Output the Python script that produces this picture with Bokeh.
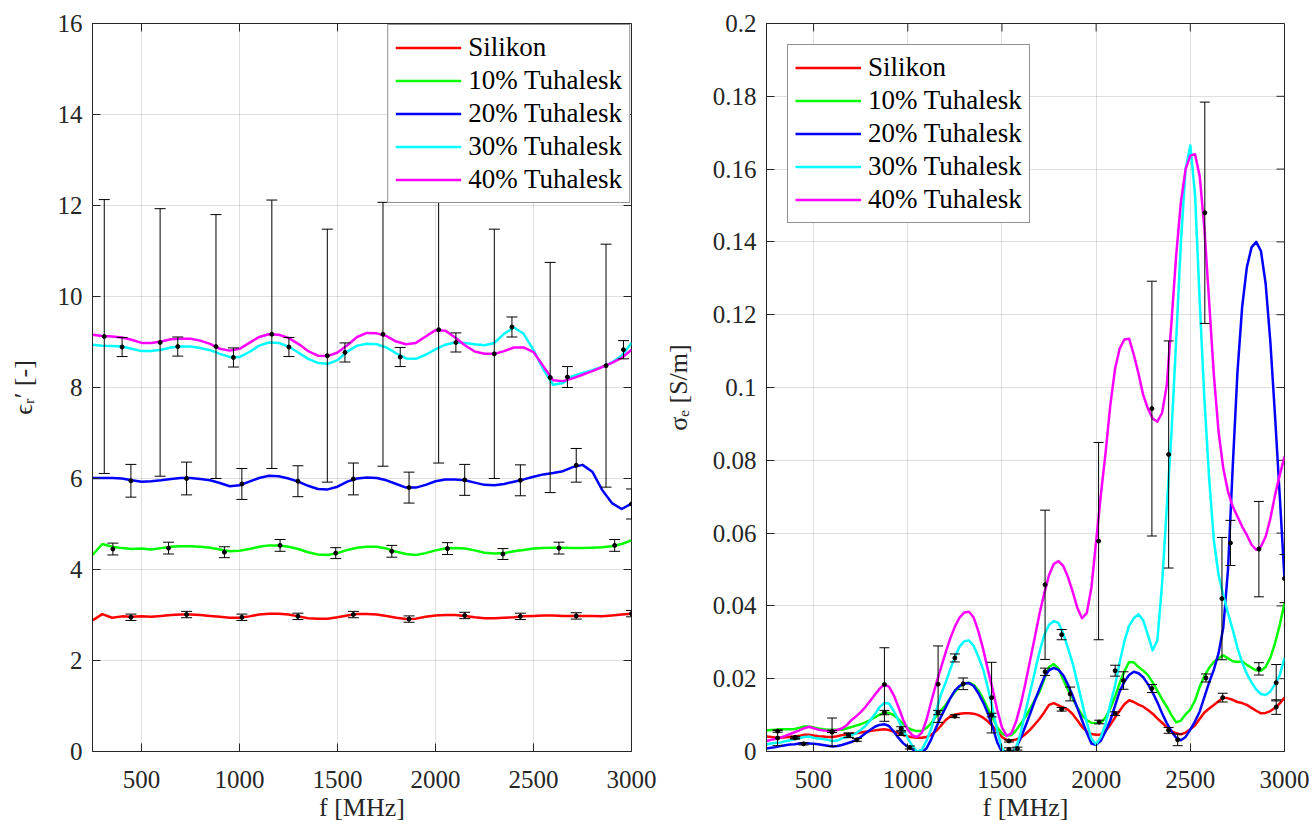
import math

from bokeh.plotting import figure
from bokeh.layouts import row
from bokeh.models import ColumnDataSource, Whisker, TeeHead, FixedTicker, Range1d
from bokeh.embed import file_html
from bokeh.resources import INLINE

FONT = "'Liberation Serif', 'Times New Roman', serif"
INK = "#262626"

# ---------------------------------------------------------------- data
series_names = ["Silikon", "10% Tuhalesk", "20% Tuhalesk", "30% Tuhalesk", "40% Tuhalesk"]
series_colors = ["#ff0000", "#00ff00", "#0000ff", "#00ffff", "#ff00ff"]

freq_ticks = [500, 1000, 1500, 2000, 2500, 3000]
eps_ticks = [0, 2, 4, 6, 8, 10, 12, 14, 16]
eps_tick_labels = ["0", "2", "4", "6", "8", "10", "12", "14", "16"]
sig_ticks = [0.0, 0.02, 0.04, 0.06, 0.08, 0.1, 0.12, 0.14, 0.16, 0.18, 0.2]
sig_tick_labels = ["0", "0.02", "0.04", "0.06", "0.08", "0.1", "0.12", "0.14", "0.16", "0.18", "0.2"]

# relative permittivity, sampled every 50 MHz from 250 to 3000 MHz
freq_eps = list(range(250, 3001, 50))
eps_silikon = [2.88, 3.02, 2.94, 2.97, 2.96, 2.97, 2.96, 2.98, 3.00, 3.01,
               3.01, 3.00, 2.98, 2.96, 2.94, 2.94, 2.97, 3.01, 3.03, 3.03,
               3.01, 2.97, 2.93, 2.92, 2.92, 2.95, 2.99, 3.02, 3.02, 3.01,
               2.98, 2.94, 2.91, 2.92, 2.96, 2.99, 3.00, 3.00, 2.98, 2.95,
               2.93, 2.93, 2.94, 2.95, 2.97, 2.98, 2.99, 2.99, 2.98, 2.98,
               2.98, 2.98, 2.97, 2.99, 3.01, 3.03]
eps_10 = [4.32, 4.56, 4.50, 4.47, 4.45, 4.46, 4.44, 4.47, 4.50, 4.51,
          4.51, 4.50, 4.48, 4.44, 4.40, 4.41, 4.45, 4.50, 4.53, 4.53,
          4.50, 4.45, 4.38, 4.33, 4.32, 4.36, 4.43, 4.48, 4.50, 4.50,
          4.46, 4.39, 4.34, 4.32, 4.36, 4.42, 4.46, 4.47, 4.46, 4.42,
          4.37, 4.35, 4.36, 4.40, 4.43, 4.46, 4.47, 4.48, 4.48, 4.47,
          4.47, 4.48, 4.49, 4.51, 4.56, 4.64]
eps_20 = [6.01, 6.01, 6.01, 6.00, 5.96, 5.93, 5.94, 5.96, 5.99, 6.01,
          6.01, 5.99, 5.96, 5.90, 5.83, 5.85, 5.93, 6.01, 6.06, 6.05,
          6.00, 5.93, 5.84, 5.77, 5.76, 5.82, 5.93, 6.00, 6.02, 6.01,
          5.96, 5.88, 5.80, 5.80, 5.86, 5.94, 5.98, 5.98, 5.96, 5.91,
          5.86, 5.85, 5.88, 5.93, 5.98, 6.04, 6.09, 6.12, 6.16, 6.25,
          6.30, 6.15, 5.75, 5.46, 5.33, 5.45]
eps_30 = [8.94, 8.92, 8.91, 8.90, 8.85, 8.80, 8.80, 8.83, 8.88, 8.90,
          8.90, 8.87, 8.82, 8.74, 8.67, 8.67, 8.78, 8.92, 8.99, 8.98,
          8.90, 8.77, 8.63, 8.54, 8.52, 8.60, 8.79, 8.92, 8.96, 8.95,
          8.88, 8.75, 8.64, 8.63, 8.72, 8.84, 8.94, 8.99, 8.98, 8.95,
          8.93, 8.98, 9.18, 9.32, 9.18, 8.82, 8.40, 8.06, 8.10, 8.25,
          8.32, 8.38, 8.45, 8.55, 8.70, 8.98]
eps_40 = [9.16, 9.13, 9.12, 9.10, 9.05, 8.98, 8.98, 9.01, 9.06, 9.07,
          9.07, 9.03, 8.96, 8.85, 8.81, 8.85, 8.98, 9.11, 9.17, 9.16,
          9.09, 8.96, 8.80, 8.70, 8.69, 8.77, 8.93, 9.11, 9.20, 9.19,
          9.13, 9.01, 8.95, 8.98, 9.12, 9.26, 9.25, 9.10, 8.93, 8.79,
          8.74, 8.74, 8.80, 8.88, 8.88, 8.78, 8.47, 8.16, 8.14, 8.20,
          8.28, 8.36, 8.45, 8.54, 8.65, 8.83]

# permittivity error bars: frequency, mean, half-width
eb_eps_sil_f = [446, 730, 1012, 1298, 1581, 1865, 2149, 2433, 2718, 3000]
eb_eps_sil_v = [2.95, 3.01, 2.95, 2.97, 3.01, 2.91, 2.99, 2.97, 2.98, 3.03]
eb_eps_sil_e = [0.07, 0.07, 0.07, 0.07, 0.07, 0.07, 0.07, 0.07, 0.07, 0.07]
eb_eps_10_f = [354, 638, 923, 1207, 1491, 1777, 2061, 2344, 2630, 2914]
eb_eps_10_v = [4.45, 4.47, 4.38, 4.53, 4.36, 4.40, 4.46, 4.34, 4.47, 4.53]
eb_eps_10_e = [0.13, 0.13, 0.12, 0.13, 0.12, 0.13, 0.13, 0.12, 0.13, 0.13]
eb_eps_20_f = [446, 730, 1012, 1298, 1581, 1865, 2149, 2433, 2718, 3000]
eb_eps_20_v = [5.95, 6.00, 5.88, 5.94, 5.99, 5.80, 5.97, 5.96, 6.29, 5.44]
eb_eps_20_e = [0.36, 0.36, 0.34, 0.34, 0.35, 0.34, 0.34, 0.34, 0.37, 0.33]
eb_eps_30_f = [401, 685, 969, 1252, 1538, 1820, 2104, 2390, 2673, 2959]
eb_eps_30_v = [8.89, 8.90, 8.66, 8.89, 8.77, 8.67, 8.99, 9.33, 8.23, 8.83]
eb_eps_30_e = [0.21, 0.21, 0.21, 0.21, 0.21, 0.21, 0.21, 0.22, 0.23, 0.20]
eb_eps_40_f = [310, 595, 880, 1165, 1448, 1732, 2016, 2300, 2585, 2870]
eb_eps_40_v = [9.12, 8.99, 8.90, 9.17, 8.70, 9.17, 9.27, 8.74, 8.22, 8.48]
eb_eps_40_e = [3.01, 2.94, 2.90, 2.95, 2.78, 2.90, 2.93, 2.74, 2.53, 2.67]

# effective conductivity in S/m, sampled every 25 MHz from 250 to 3000 MHz
freq_sig = list(range(250, 3001, 25))
sig_silikon = [0.0041, 0.0040, 0.0038, 0.0038, 0.0039, 0.0040, 0.0041, 0.0043, 0.0046, 0.0046,
               0.0044, 0.0042, 0.0041, 0.0040, 0.0040, 0.0042, 0.0045, 0.0047, 0.0048, 0.0050,
               0.0052, 0.0054, 0.0056, 0.0058, 0.0060, 0.0061, 0.0059, 0.0055, 0.0050, 0.0045,
               0.0041, 0.0039, 0.0038, 0.0038, 0.0040, 0.0046, 0.0056, 0.0070, 0.0086, 0.0096,
               0.0101, 0.0104, 0.0105, 0.0105, 0.0104, 0.0100, 0.0093, 0.0083, 0.0070, 0.0055,
               0.0040, 0.0032, 0.0030, 0.0033, 0.0038, 0.0048, 0.0060, 0.0075, 0.0090, 0.0108,
               0.0128, 0.0133, 0.0127, 0.0121, 0.0115, 0.0103, 0.0086, 0.0068, 0.0055, 0.0048,
               0.0046, 0.0047, 0.0056, 0.0073, 0.0093, 0.0112, 0.0130, 0.0141, 0.0136, 0.0129,
               0.0123, 0.0114, 0.0104, 0.0091, 0.0079, 0.0067, 0.0056, 0.0050, 0.0047, 0.0052,
               0.0061, 0.0072, 0.0090, 0.0107, 0.0118, 0.0128, 0.0138, 0.0148, 0.0146, 0.0142,
               0.0136, 0.0133, 0.0128, 0.0120, 0.0112, 0.0105, 0.0106, 0.0111, 0.0120, 0.0132,
               0.0148]
sig_10 = [0.0058, 0.0059, 0.0060, 0.0061, 0.0061, 0.0061, 0.0062, 0.0065, 0.0069, 0.0069,
          0.0066, 0.0063, 0.0061, 0.0060, 0.0060, 0.0060, 0.0060, 0.0063, 0.0067, 0.0071,
          0.0075, 0.0080, 0.0086, 0.0094, 0.0101, 0.0107, 0.0106, 0.0100, 0.0089, 0.0076,
          0.0065, 0.0059, 0.0056, 0.0057, 0.0065, 0.0078, 0.0097, 0.0112, 0.0127, 0.0146,
          0.0164, 0.0178, 0.0187, 0.0189, 0.0183, 0.0168, 0.0145, 0.0118, 0.0094, 0.0066,
          0.0050, 0.0043, 0.0045, 0.0058, 0.0076, 0.0096, 0.0118, 0.0142, 0.0165, 0.0200,
          0.0232, 0.0240, 0.0228, 0.0198, 0.0170, 0.0146, 0.0122, 0.0100, 0.0086, 0.0079,
          0.0078, 0.0079, 0.0093, 0.0118, 0.0150, 0.0188, 0.0220, 0.0246, 0.0245, 0.0232,
          0.0222, 0.0210, 0.0190, 0.0167, 0.0144, 0.0123, 0.0100, 0.0080, 0.0085, 0.0102,
          0.0115, 0.0140, 0.0178, 0.0208, 0.0230, 0.0246, 0.0256, 0.0264, 0.0256, 0.0248,
          0.0246, 0.0248, 0.0238, 0.0230, 0.0223, 0.0222, 0.0232, 0.0258, 0.0298, 0.0348,
          0.0407]
sig_20 = [0.0008, 0.0010, 0.0012, 0.0015, 0.0017, 0.0019, 0.0020, 0.0022, 0.0023, 0.0022,
          0.0021, 0.0020, 0.0018, 0.0016, 0.0014, 0.0015, 0.0018, 0.0022, 0.0026, 0.0032,
          0.0040, 0.0050, 0.0059, 0.0068, 0.0073, 0.0075, 0.0070, 0.0055, 0.0038, 0.0023,
          0.0013, 0.0006, 0.0000, -0.0002, 0.0009, 0.0034, 0.0065, 0.0094, 0.0120, 0.0146,
          0.0167, 0.0180, 0.0187, 0.0188, 0.0180, 0.0160, 0.0135, 0.0105, 0.0068, 0.0025,
          -0.0001, -0.0006, -0.0003, 0.0010, 0.0038, 0.0070, 0.0104, 0.0140, 0.0173, 0.0205,
          0.0223, 0.0230, 0.0224, 0.0210, 0.0184, 0.0154, 0.0120, 0.0086, 0.0052, 0.0022,
          0.0018, 0.0030, 0.0055, 0.0085, 0.0125, 0.0165, 0.0192, 0.0210, 0.0219, 0.0215,
          0.0204, 0.0185, 0.0162, 0.0135, 0.0105, 0.0078, 0.0055, 0.0038, 0.0031, 0.0040,
          0.0060, 0.0083, 0.0110, 0.0150, 0.0190, 0.0225, 0.0270, 0.0340, 0.0500, 0.0780,
          0.1040, 0.1220, 0.1330, 0.1385, 0.1400, 0.1375, 0.1285, 0.1125, 0.0920, 0.0700,
          0.0475]
sig_30 = [0.0020, 0.0022, 0.0024, 0.0025, 0.0028, 0.0031, 0.0034, 0.0037, 0.0040, 0.0041,
          0.0038, 0.0036, 0.0034, 0.0032, 0.0029, 0.0030, 0.0036, 0.0040, 0.0044, 0.0050,
          0.0059, 0.0070, 0.0085, 0.0102, 0.0122, 0.0133, 0.0132, 0.0112, 0.0086, 0.0059,
          0.0036, 0.0015, 0.0000, 0.0005, 0.0030, 0.0063, 0.0110, 0.0155, 0.0188, 0.0225,
          0.0260, 0.0288, 0.0303, 0.0305, 0.0290, 0.0260, 0.0226, 0.0175, 0.0118, 0.0057,
          0.0008, -0.0005, -0.0003, 0.0010, 0.0052, 0.0110, 0.0165, 0.0220, 0.0275, 0.0320,
          0.0348, 0.0358, 0.0353, 0.0325, 0.0285, 0.0243, 0.0190, 0.0135, 0.0080, 0.0035,
          0.0020, 0.0040, 0.0075, 0.0130, 0.0180, 0.0245, 0.0303, 0.0345, 0.0366, 0.0377,
          0.0360, 0.0320, 0.0278, 0.0305, 0.0460, 0.0670, 0.0875, 0.1130, 0.1400, 0.1600,
          0.1665, 0.1530, 0.1235, 0.0965, 0.0750, 0.0580, 0.0485, 0.0430, 0.0380, 0.0335,
          0.0285, 0.0245, 0.0213, 0.0190, 0.0170, 0.0158, 0.0155, 0.0165, 0.0185, 0.0210,
          0.0257]
sig_40 = [0.0029, 0.0032, 0.0035, 0.0038, 0.0043, 0.0048, 0.0053, 0.0058, 0.0064, 0.0068,
          0.0064, 0.0060, 0.0058, 0.0057, 0.0057, 0.0059, 0.0063, 0.0072, 0.0086, 0.0096,
          0.0108, 0.0122, 0.0139, 0.0156, 0.0172, 0.0184, 0.0178, 0.0155, 0.0123, 0.0088,
          0.0060, 0.0044, 0.0040, 0.0052, 0.0088, 0.0138, 0.0185, 0.0228, 0.0270, 0.0310,
          0.0343, 0.0368, 0.0382, 0.0384, 0.0368, 0.0330, 0.0282, 0.0225, 0.0172, 0.0114,
          0.0066, 0.0043, 0.0050, 0.0082, 0.0130, 0.0188, 0.0252, 0.0315, 0.0380, 0.0435,
          0.0485, 0.0515, 0.0523, 0.0510, 0.0480, 0.0440, 0.0395, 0.0366, 0.0380, 0.0450,
          0.0578, 0.0705, 0.0820, 0.0950, 0.1050, 0.1107, 0.1132, 0.1134, 0.1090, 0.1038,
          0.0979, 0.0942, 0.0915, 0.0906, 0.0930, 0.1006, 0.1180, 0.1363, 0.1509, 0.1600,
          0.1637, 0.1641, 0.1580, 0.1436, 0.1235, 0.1034, 0.0879, 0.0778, 0.0714, 0.0673,
          0.0646, 0.0618, 0.0595, 0.0568, 0.0554, 0.0563, 0.0590, 0.0640, 0.0705, 0.0760,
          0.0810]

# conductivity error bars: frequency, mean, half-width
eb_sig_sil_f = [402, 686, 965, 1250, 1537, 1817, 2101, 2385, 2672, 2956]
eb_sig_sil_v = [0.0039, 0.0045, 0.0049, 0.0097, 0.0029, 0.0116, 0.0104, 0.0058, 0.0148, 0.0122]
eb_sig_sil_e = [0.0003, 0.0006, 0.0005, 0.0004, 0.0003, 0.0005, 0.0005, 0.0008, 0.0012, 0.0020]
eb_sig_10_f = [309, 598, 876, 1161, 1445, 1729, 2016, 2296, 2583, 2864]
eb_sig_10_v = [0.0056, 0.0055, 0.0107, 0.0107, 0.0100, 0.0219, 0.0081, 0.0173, 0.0202, 0.0227]
eb_sig_10_e = [0.0003, 0.0003, 0.0006, 0.0006, 0.0005, 0.0010, 0.0005, 0.0011, 0.0011, 0.0017]
eb_sig_20_f = [447, 730, 1011, 1294, 1582, 1862, 2145, 2433, 2713, 3000]
eb_sig_20_v = [0.0021, 0.0032, 0.0011, 0.0186, 0.0008, 0.0158, 0.0195, 0.0032, 0.0573, 0.0475]
eb_sig_20_e = [0.0003, 0.0004, 0.0004, 0.0016, 0.0004, 0.0019, 0.0024, 0.0016, 0.0062, 0.0066]
eb_sig_30_f = [402, 686, 965, 1250, 1537, 1817, 2101, 2385, 2668, 2956]
eb_sig_30_v = [0.0037, 0.0044, 0.0063, 0.0257, 0.0006, 0.0321, 0.0222, 0.0816, 0.0420, 0.0189]
eb_sig_30_e = [0.0003, 0.0006, 0.0005, 0.0011, 0.0004, 0.0014, 0.0015, 0.0312, 0.0168, 0.0050]
eb_sig_40_f = [309, 598, 876, 1161, 1445, 1729, 2013, 2296, 2577, 2864]
eb_sig_40_v = [0.0037, 0.0053, 0.0184, 0.0185, 0.0148, 0.0458, 0.0578, 0.0942, 0.1480, 0.0556]
eb_sig_40_e = [0.0021, 0.0039, 0.0101, 0.0105, 0.0097, 0.0205, 0.0271, 0.0350, 0.0304, 0.0131]


# ---------------------------------------------------------------- drawing
TICK_LEN = 8


def make_panel(width, border_left, border_right, border_top, border_bottom,
               y_end, y_ticks, y_labels, y_title):
    p = figure(width=width, height=828,
               x_range=Range1d(250, 3000), y_range=Range1d(0, y_end),
               output_backend="svg", toolbar_location=None,
               min_border_left=border_left, min_border_right=border_right,
               min_border_top=border_top, min_border_bottom=border_bottom,
               background_fill_color="white", border_fill_color="white")
    p.outline_line_color = INK
    p.outline_line_width = 1

    x_ticker = FixedTicker(ticks=freq_ticks)
    y_ticker = FixedTicker(ticks=y_ticks)
    p.xaxis.ticker = x_ticker
    p.yaxis.ticker = y_ticker
    p.yaxis.major_label_overrides = dict(zip(y_ticks, y_labels))
    p.xgrid.ticker = x_ticker
    p.ygrid.ticker = y_ticker
    for g in (p.xgrid, p.ygrid):
        g.grid_line_color = INK
        g.grid_line_alpha = 0.15
        g.grid_line_width = 1

    for ax in (p.xaxis[0], p.yaxis[0]):
        ax.axis_line_color = INK
        ax.axis_line_width = 1
        ax.major_tick_line_color = INK
        ax.major_tick_in = TICK_LEN
        ax.major_tick_out = 0
        ax.minor_tick_line_color = None
        ax.major_label_text_font = FONT
        ax.major_label_text_font_size = "25px"
        ax.major_label_text_color = INK
        ax.axis_label_text_font = FONT
        ax.axis_label_text_font_size = "26px"
        ax.axis_label_text_font_style = "normal"
        ax.axis_label_text_color = INK
    p.xaxis.axis_label = "f [MHz]"
    p.xaxis.major_label_standoff = 19
    p.xaxis.axis_label_standoff = 2
    p.yaxis.axis_label = y_title
    p.yaxis.major_label_standoff = 10
    p.yaxis.axis_label_standoff = 17

    # inward tick marks along the top and right edges of the box
    p.ray(x=freq_ticks, y=[y_end] * len(freq_ticks), length=TICK_LEN,
          length_units="screen", angle=-math.pi / 2, line_color=INK, line_width=1)
    p.ray(x=[3000] * len(y_ticks), y=y_ticks, length=TICK_LEN,
          length_units="screen", angle=math.pi, line_color=INK, line_width=1)
    return p


def add_curves(p, freq, curves):
    for name, color, vals in zip(series_names, series_colors, curves):
        p.line(freq, vals, line_color=color, line_width=2.5, line_join="round",
               legend_label=name)


def add_error_bars(p, bars, cap):
    for f, v, e in bars:
        src = ColumnDataSource(dict(f=f, v=v,
                                    lo=[a - b for a, b in zip(v, e)],
                                    hi=[a + b for a, b in zip(v, e)]))
        w = Whisker(source=src, base="f", lower="lo", upper="hi", dimension="height",
                    line_color="black", line_width=1, level="guide",
                    upper_head=TeeHead(size=cap, line_color="black", line_width=1),
                    lower_head=TeeHead(size=cap, line_color="black", line_width=1))
        p.add_layout(w)
        p.scatter("f", "v", source=src, size=4, color="black")


def style_legend(p, location, margin):
    lg = p.legend[0]
    lg.location = location
    lg.margin = margin
    lg.label_text_font = FONT
    lg.label_text_font_size = "27px"
    lg.label_text_color = "black"
    lg.glyph_width = 66
    lg.glyph_height = 31
    lg.label_height = 31
    lg.label_standoff = 7
    lg.spacing = 2
    lg.padding = 7
    lg.border_line_color = INK
    lg.border_line_width = 1
    lg.background_fill_color = "white"
    lg.background_fill_alpha = 1.0


# left panel: relative permittivity
p1 = make_panel(660, 92, 29, 23, 75, 16, eps_ticks, eps_tick_labels, "ϵᵣ′ [-]")
add_curves(p1, freq_eps, [eps_silikon, eps_10, eps_20, eps_30, eps_40])
add_error_bars(p1, [(eb_eps_sil_f, eb_eps_sil_v, eb_eps_sil_e),
                    (eb_eps_10_f, eb_eps_10_v, eb_eps_10_e),
                    (eb_eps_20_f, eb_eps_20_v, eb_eps_20_e),
                    (eb_eps_30_f, eb_eps_30_v, eb_eps_30_e),
                    (eb_eps_40_f, eb_eps_40_v, eb_eps_40_e)], cap=11)
style_legend(p1, "top_right", 1)

# right panel: effective conductivity
p2 = make_panel(654, 102, 30, 21, 77, 0.2, sig_ticks, sig_tick_labels, "σₑ [S/m]")
add_curves(p2, freq_sig, [sig_silikon, sig_10, sig_20, sig_30, sig_40])
add_error_bars(p2, [(eb_sig_sil_f, eb_sig_sil_v, eb_sig_sil_e),
                    (eb_sig_10_f, eb_sig_10_v, eb_sig_10_e),
                    (eb_sig_20_f, eb_sig_20_v, eb_sig_20_e),
                    (eb_sig_30_f, eb_sig_30_v, eb_sig_30_e),
                    (eb_sig_40_f, eb_sig_40_v, eb_sig_40_e)], cap=10)
style_legend(p2, "top_left", 21)

layout = row(p1, p2)
open("out.html", "w").write(file_html(layout, INLINE))
